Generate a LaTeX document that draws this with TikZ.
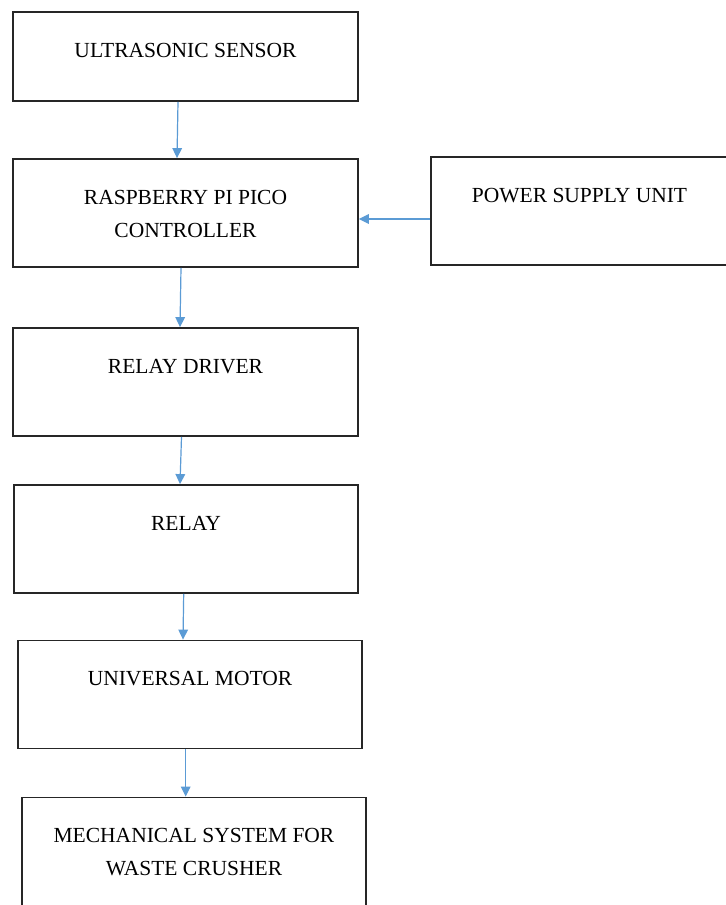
\documentclass[tikz,border=0pt]{standalone}
\usepackage{fontspec}
\setmainfont{Liberation Serif}
\usetikzlibrary{calc,arrows.meta}
\newcommand{\pixelsize}{0.5pt}
\definecolor{flowblue}{RGB}{91,155,213}
\tikzset{
	block/.style={draw=black!85, line width=0.9pt, minimum width=172.5pt, minimum height=54pt, inner sep=0pt},
	blocktext/.style={anchor=north, yshift=-15.75pt, inner sep=0pt, align=center, font=\fontsize{10.75}{16.5}\selectfont},
	flow/.style={draw=flowblue, line width=0.6pt, -{Triangle[length=5pt,width=4.8pt]}}
}
\begin{document}
\begin{tikzpicture}[x=\pixelsize,y=-\pixelsize]
	\path[use as bounding box, fill=white] (0,0) rectangle (726,905);

	\node [block, minimum height=44.5pt, label={[blocktext]north:ULTRASONIC SENSOR}] (us) at (185.5,56.5) {};
	\node [block, label={[blocktext]north:{RASPBERRY PI PICO\\CONTROLLER}}] (pico) at (185.5,213) {};
	\node [block, minimum width=148.5pt, label={[blocktext]north:POWER SUPPLY UNIT}] (psu) at (579.5,211) {};
	\node [block, label={[blocktext]north:RELAY DRIVER}] (driver) at (185.5,382) {};
	\node [block, minimum width=172pt, label={[blocktext]north:RELAY}] (relay) at (186,539) {};
	\node [block, minimum width=172pt, label={[blocktext]north:UNIVERSAL MOTOR}] (motor) at (190,694.5) {};
	\node [block, minimum width=172pt, label={[blocktext]north:{MECHANICAL SYSTEM FOR\\WASTE CRUSHER}}] (crusher) at (194,851.5) {};

	\draw[flow] ($(us.south)+(-7.5,0)$) -- ($(pico.north)+(-8.5,0)$);
	\draw[flow] ($(psu.west)+(0,8)$) -- ($(pico.east)+(0,6)$);
	\draw[flow] ($(pico.south)+(-4.5,0)$) -- ($(driver.north)+(-5.5,0)$);
	\draw[flow] ($(driver.south)+(-4,0)$) -- ($(relay.north)+(-6,0)$);
	\draw[flow] ($(relay.south)+(-2.3,0)$) -- ($(motor.north)+(-7,0)$);
	\draw[flow] ($(motor.south)+(-4.3,0)$) -- ($(crusher.north)+(-8.3,0)$);

\end{tikzpicture}
\end{document}
